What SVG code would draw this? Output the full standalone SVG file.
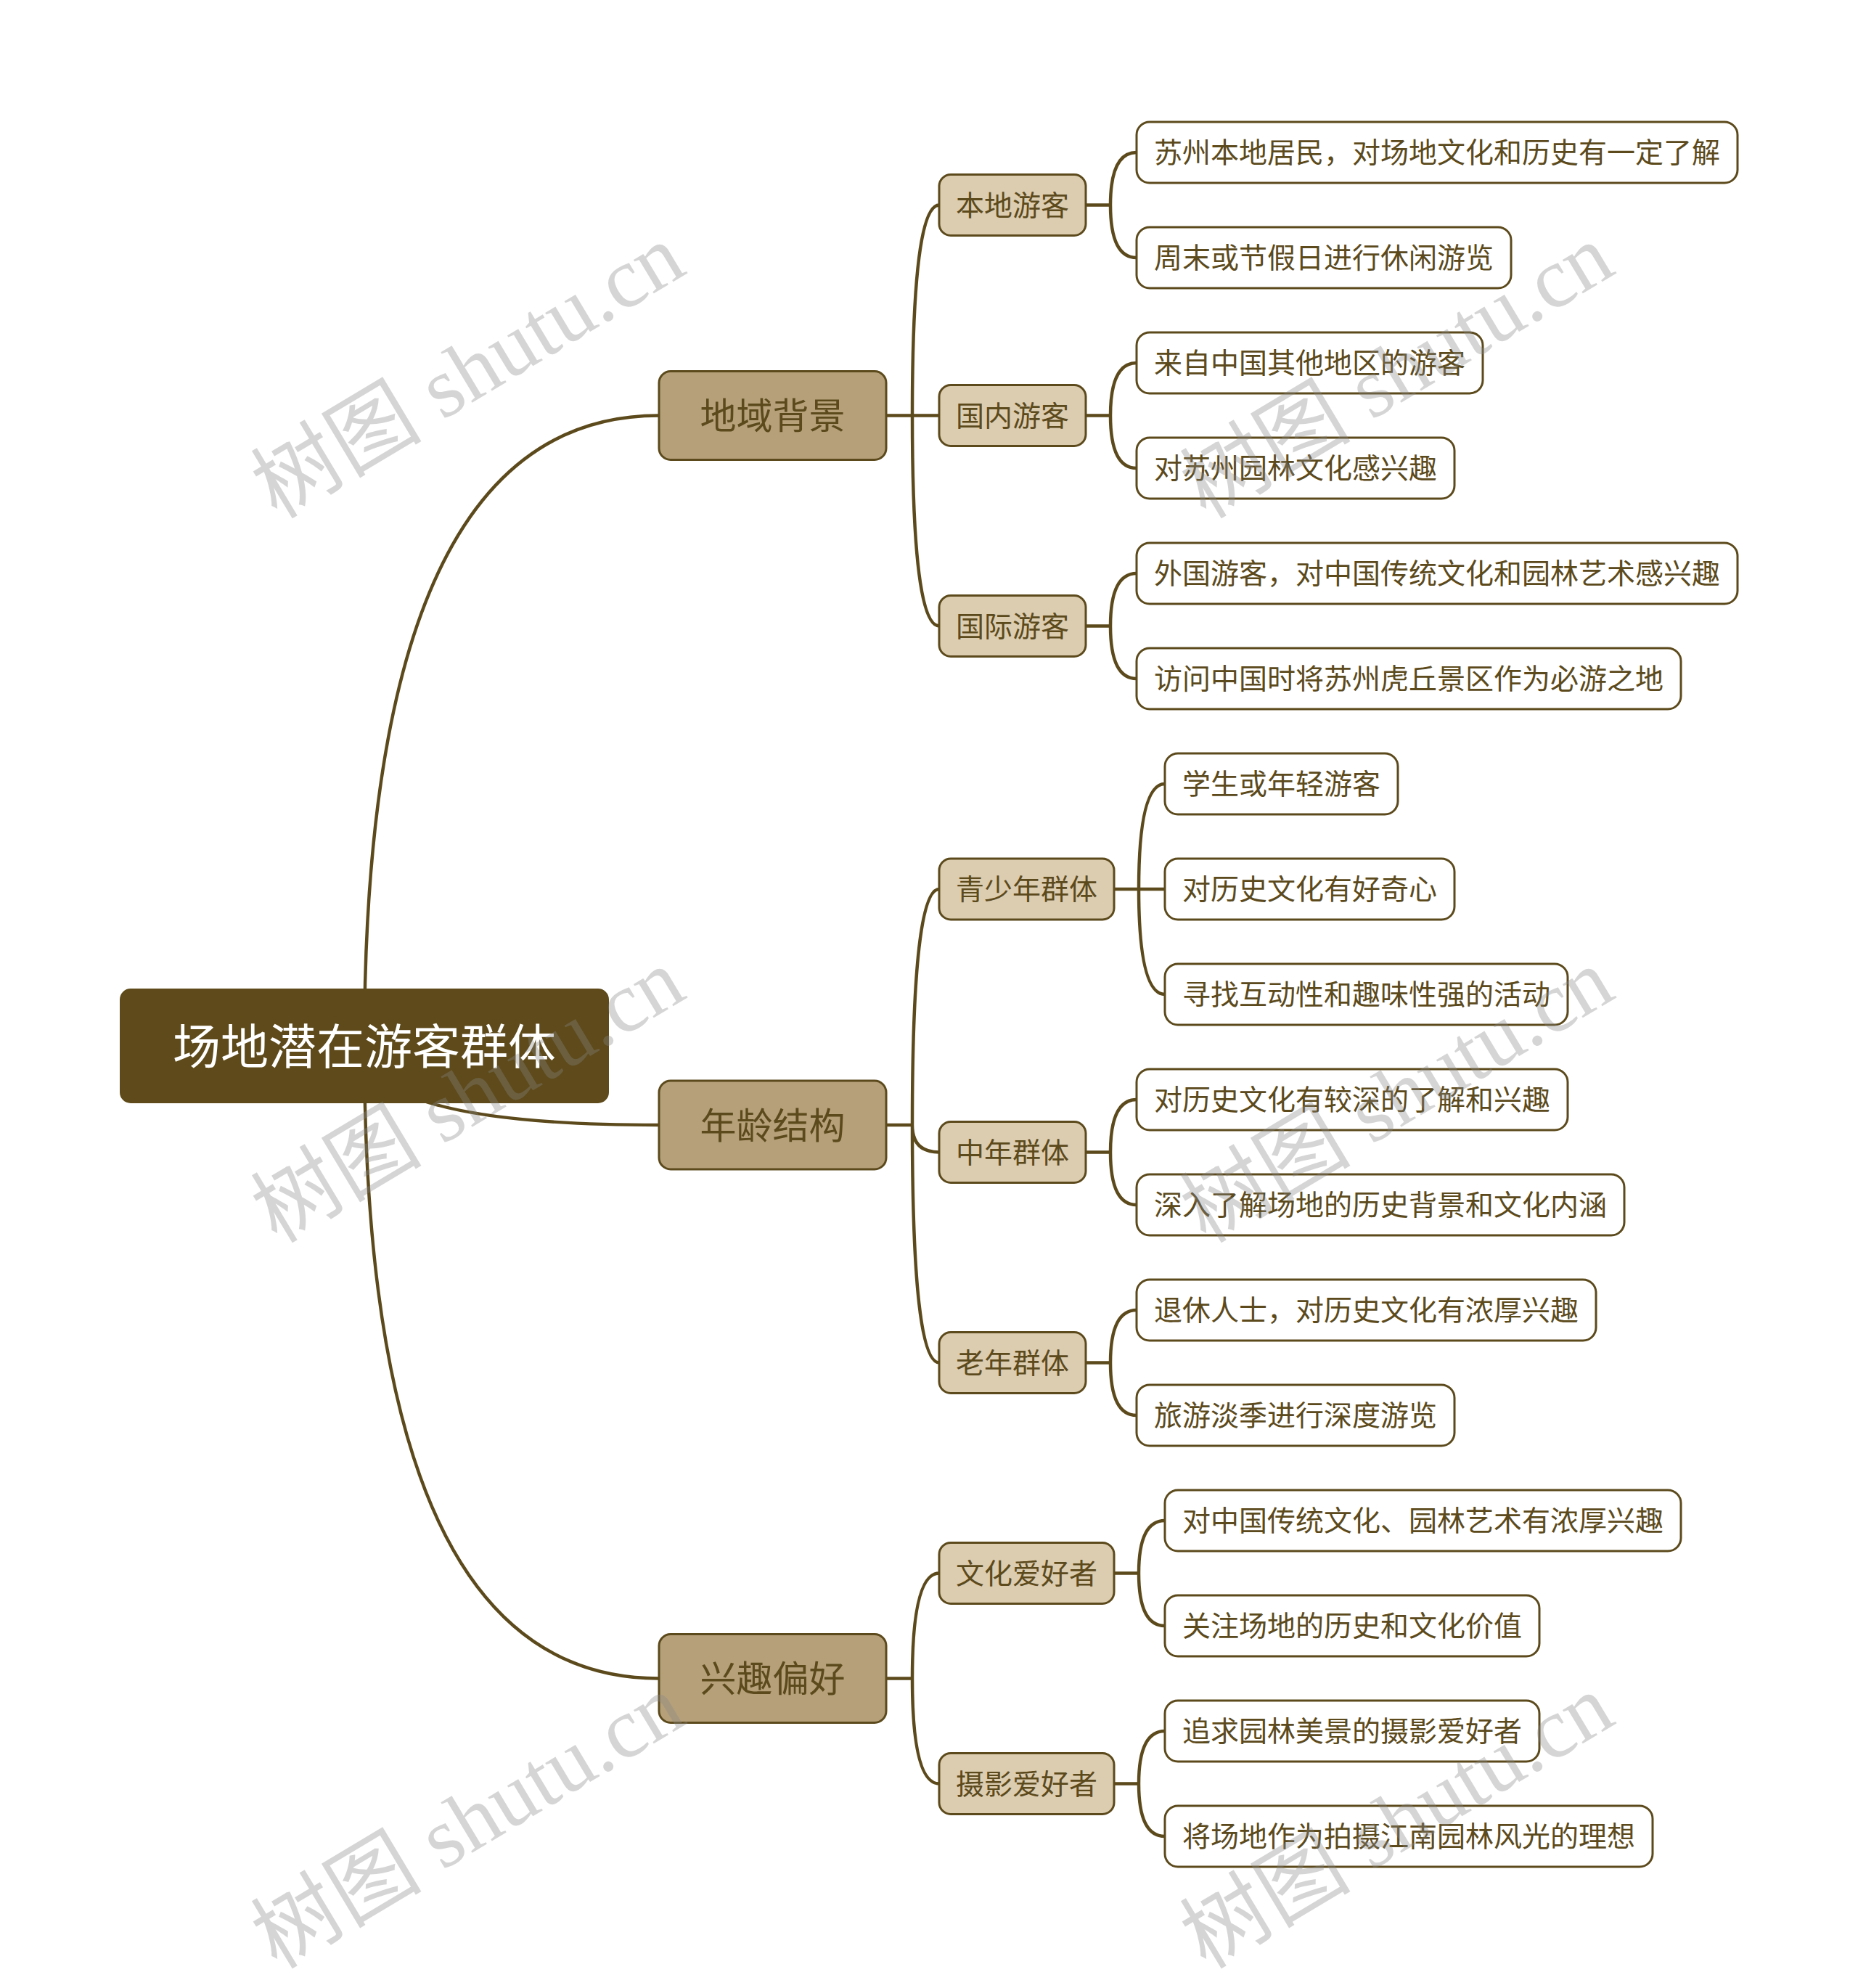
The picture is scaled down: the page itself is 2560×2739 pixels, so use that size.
<svg xmlns="http://www.w3.org/2000/svg" width="2560" height="2739" viewBox="0 0 2560 2739">
<style>
  text { font-family: "Noto Sans CJK SC", "Noto Sans", sans-serif; text-anchor: middle; dominant-baseline: central; }
  .c { fill: none; stroke: #5c4a1c; stroke-width: 4.5; stroke-linecap: round; }
  .root rect { fill: #5e4a1a; stroke: #5e4a1a; stroke-width: 2; }
  .root text { fill: #ffffff; font-size: 66px; }
  .l1 rect { fill: #b5a07a; stroke: #5c4a1c; stroke-width: 3; }
  .l1 text { fill: #5c4a1c; font-size: 50px; }
  .l2 rect { fill: #dccdb1; stroke: #5c4a1c; stroke-width: 3; }
  .l2 text { fill: #5c4a1c; font-size: 39px; }
  .l3 rect { fill: #ffffff; stroke: #5c4a1c; stroke-width: 3; }
  .l3 text { fill: #5c4a1c; font-size: 39px; }
  .wm { font-family: "Liberation Serif", "Noto Sans CJK SC", serif; font-size: 118px; fill: #888888; fill-opacity: 0.35; }
</style>
<rect x="0" y="0" width="2560" height="2739" fill="#ffffff"/>
<g id="connectors">
  <path class="c" d="M502,1441 Q502,572.5 908,572.5"/>
  <path class="c" d="M502,1441 Q502,1550 908,1550"/>
  <path class="c" d="M502,1441 Q502,2312.5 908,2312.5"/>
  <path class="c" d="M1221,572.5 H1257 M1257,572.5 Q1257,282.5 1294,282.5 M1257,572.5 H1294 M1257,572.5 Q1257,862.5 1294,862.5"/>
  <path class="c" d="M1221,1550 H1257 M1257,1550 Q1257,1225 1294,1225 M1257,1550 Q1257,1587.5 1294,1587.5 M1257,1550 Q1257,1877.5 1294,1877.5"/>
  <path class="c" d="M1221,2312.5 H1257 M1257,2312.5 Q1257,2167.5 1294,2167.5 M1257,2312.5 Q1257,2457.5 1294,2457.5"/>
  <path class="c" d="M1495,282.5 H1530 M1530,282.5 Q1530,210 1566,210 M1530,282.5 Q1530,355 1566,355"/>
  <path class="c" d="M1495,572.5 H1530 M1530,572.5 Q1530,500 1566,500 M1530,572.5 Q1530,645 1566,645"/>
  <path class="c" d="M1495,862.5 H1530 M1530,862.5 Q1530,790 1566,790 M1530,862.5 Q1530,935 1566,935"/>
  <path class="c" d="M1534,1225 H1569 M1569,1225 Q1569,1080 1605,1080 M1569,1225 H1605 M1569,1225 Q1569,1370 1605,1370"/>
  <path class="c" d="M1495,1587.5 H1530 M1530,1587.5 Q1530,1515 1566,1515 M1530,1587.5 Q1530,1660 1566,1660"/>
  <path class="c" d="M1495,1877.5 H1530 M1530,1877.5 Q1530,1805 1566,1805 M1530,1877.5 Q1530,1950 1566,1950"/>
  <path class="c" d="M1534,2167.5 H1569 M1569,2167.5 Q1569,2095 1605,2095 M1569,2167.5 Q1569,2240 1605,2240"/>
  <path class="c" d="M1534,2457.5 H1569 M1569,2457.5 Q1569,2385 1605,2385 M1569,2457.5 Q1569,2530 1605,2530"/>
</g>
<g id="root" class="root"><rect x="166" y="1363" width="672" height="156" rx="14"/><text x="502" y="1437">场地潜在游客群体</text></g>
<g id="n-diyu" class="l1"><rect x="908" y="511.5" width="313" height="122" rx="16"/><text x="1064.5" y="569">地域背景</text></g>
<g id="n-nianling" class="l1"><rect x="908" y="1489" width="313" height="122" rx="16"/><text x="1064.5" y="1546.5">年龄结构</text></g>
<g id="n-xingqu" class="l1"><rect x="908" y="2251.5" width="313" height="122" rx="16"/><text x="1064.5" y="2309">兴趣偏好</text></g>
<g id="n-bendi" class="l2"><rect x="1294" y="240.5" width="202" height="84" rx="16"/><text x="1395" y="279.5">本地游客</text></g>
<g id="n-guonei" class="l2"><rect x="1294" y="530.5" width="202" height="84" rx="16"/><text x="1395" y="569.5">国内游客</text></g>
<g id="n-guoji" class="l2"><rect x="1294" y="820.5" width="202" height="84" rx="16"/><text x="1395" y="859.5">国际游客</text></g>
<g id="n-qingshao" class="l2"><rect x="1294" y="1183" width="241" height="84" rx="16"/><text x="1414.5" y="1222">青少年群体</text></g>
<g id="n-zhongnian" class="l2"><rect x="1294" y="1545.5" width="202" height="84" rx="16"/><text x="1395" y="1584.5">中年群体</text></g>
<g id="n-laonian" class="l2"><rect x="1294" y="1835.5" width="202" height="84" rx="16"/><text x="1395" y="1874.5">老年群体</text></g>
<g id="n-wenhua" class="l2"><rect x="1294" y="2125.5" width="241" height="84" rx="16"/><text x="1414.5" y="2164.5">文化爱好者</text></g>
<g id="n-sheying" class="l2"><rect x="1294" y="2415.5" width="241" height="84" rx="16"/><text x="1414.5" y="2454.5">摄影爱好者</text></g>
<g id="leaf-0" class="l3"><rect x="1566" y="168" width="828" height="84" rx="18"/><text x="1980" y="207">苏州本地居民，对场地文化和历史有一定了解</text></g>
<g id="leaf-1" class="l3"><rect x="1566" y="313" width="516" height="84" rx="18"/><text x="1824" y="352">周末或节假日进行休闲游览</text></g>
<g id="leaf-2" class="l3"><rect x="1566" y="458" width="477" height="84" rx="18"/><text x="1804.5" y="497">来自中国其他地区的游客</text></g>
<g id="leaf-3" class="l3"><rect x="1566" y="603" width="438" height="84" rx="18"/><text x="1785" y="642">对苏州园林文化感兴趣</text></g>
<g id="leaf-4" class="l3"><rect x="1566" y="748" width="828" height="84" rx="18"/><text x="1980" y="787">外国游客，对中国传统文化和园林艺术感兴趣</text></g>
<g id="leaf-5" class="l3"><rect x="1566" y="893" width="750" height="84" rx="18"/><text x="1941" y="932">访问中国时将苏州虎丘景区作为必游之地</text></g>
<g id="leaf-6" class="l3"><rect x="1605" y="1038" width="321" height="84" rx="18"/><text x="1765.5" y="1077">学生或年轻游客</text></g>
<g id="leaf-7" class="l3"><rect x="1605" y="1183" width="399" height="84" rx="18"/><text x="1804.5" y="1222">对历史文化有好奇心</text></g>
<g id="leaf-8" class="l3"><rect x="1605" y="1328" width="555" height="84" rx="18"/><text x="1882.5" y="1367">寻找互动性和趣味性强的活动</text></g>
<g id="leaf-9" class="l3"><rect x="1566" y="1473" width="594" height="84" rx="18"/><text x="1863" y="1512">对历史文化有较深的了解和兴趣</text></g>
<g id="leaf-10" class="l3"><rect x="1566" y="1618" width="672" height="84" rx="18"/><text x="1902" y="1657">深入了解场地的历史背景和文化内涵</text></g>
<g id="leaf-11" class="l3"><rect x="1566" y="1763" width="633" height="84" rx="18"/><text x="1882.5" y="1802">退休人士，对历史文化有浓厚兴趣</text></g>
<g id="leaf-12" class="l3"><rect x="1566" y="1908" width="438" height="84" rx="18"/><text x="1785" y="1947">旅游淡季进行深度游览</text></g>
<g id="leaf-13" class="l3"><rect x="1605" y="2053" width="711" height="84" rx="18"/><text x="1960.5" y="2092">对中国传统文化、园林艺术有浓厚兴趣</text></g>
<g id="leaf-14" class="l3"><rect x="1605" y="2198" width="516" height="84" rx="18"/><text x="1863" y="2237">关注场地的历史和文化价值</text></g>
<g id="leaf-15" class="l3"><rect x="1605" y="2343" width="516" height="84" rx="18"/><text x="1863" y="2382">追求园林美景的摄影爱好者</text></g>
<g id="leaf-16" class="l3"><rect x="1605" y="2488" width="672" height="84" rx="18"/><text x="1941" y="2527">将场地作为拍摄江南园林风光的理想</text></g>
<g id="watermarks">
  <text class="wm" transform="translate(645,512) rotate(-31)">树图 shutu.cn</text>
  <text class="wm" transform="translate(645,1510) rotate(-31)">树图 shutu.cn</text>
  <text class="wm" transform="translate(645,2510) rotate(-31)">树图 shutu.cn</text>
  <text class="wm" transform="translate(1925,512) rotate(-31)">树图 shutu.cn</text>
  <text class="wm" transform="translate(1925,1510) rotate(-31)">树图 shutu.cn</text>
  <text class="wm" transform="translate(1925,2510) rotate(-31)">树图 shutu.cn</text>
</g>
</svg>
